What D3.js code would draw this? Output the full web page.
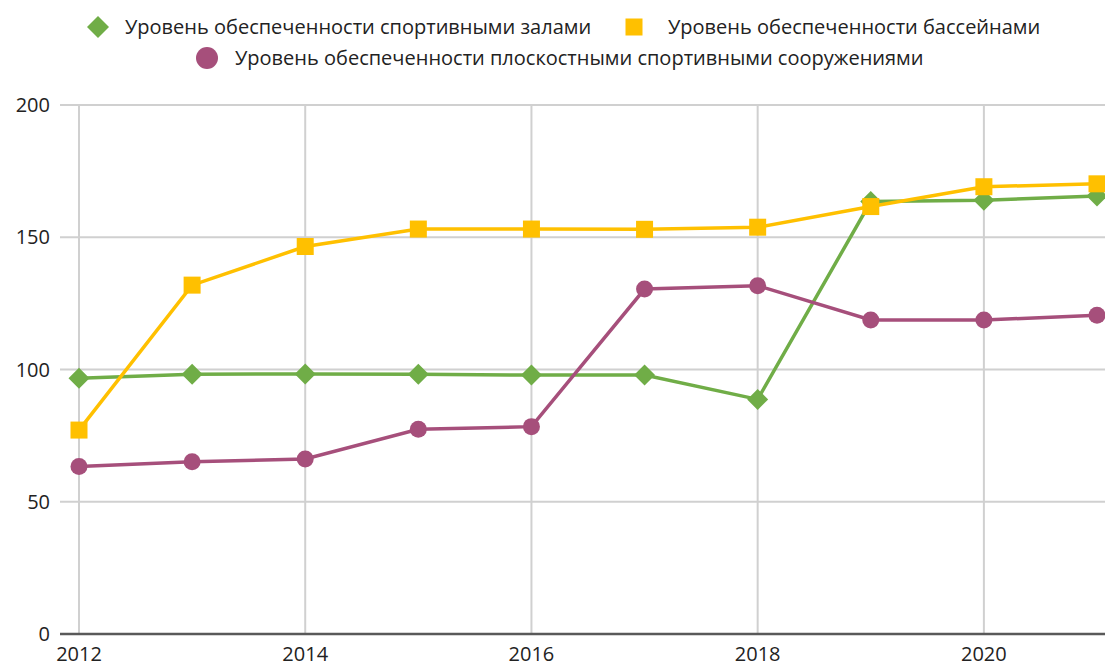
<!DOCTYPE html>
<html>
<head>
<meta charset="utf-8">
<script src="https://cdn.jsdelivr.net/npm/d3@7"></script>
<style>
  body { margin: 0; background: #fff; }
  svg { display: block; font-family: "Open Sans", sans-serif; }
</style>
</head>
<body>
<svg width="1105" height="666"></svg>
<script>
// years on the x axis
const years = [2012, 2013, 2014, 2015, 2016, 2017, 2018, 2019, 2020, 2021];
const xTicks = [2012, 2014, 2016, 2018, 2020];
const yTicks = [0, 50, 100, 150, 200];

// series values
const halls = [96.7, 98.2, 98.3, 98.2, 97.9, 97.9, 88.7, 163.5, 164.0, 165.6];
const pools = [77.1, 131.9, 146.5, 153.1, 153.1, 153.0, 153.8, 161.6, 169.1, 170.2];
const fields = [63.3, 65.1, 66.2, 77.4, 78.4, 130.4, 131.7, 118.7, 118.7, 120.5];

const names = [
  'Уровень обеспеченности спортивными залами',
  'Уровень обеспеченности бассейнами',
  'Уровень обеспеченности плоскостными спортивными сооружениями'
];

const series = [
  { name: names[0], vals: halls, color: '#70AD47', shape: 'diamond' },
  { name: names[1], vals: pools, color: '#FFC000', shape: 'square' },
  { name: names[2], vals: fields, color: '#A64F7B', shape: 'circle' }
];

const svg = d3.select('svg');

const x = d3.scaleLinear().domain([2012, 2021]).range([79, 1097]);
const y = d3.scaleLinear().domain([0, 200]).range([634, 105]);

// horizontal grid
svg.append('g')
  .selectAll('line')
  .data(yTicks.filter(d => d > 0))
  .join('line')
  .attr('x1', 60).attr('x2', 1105)
  .attr('y1', d => y(d)).attr('y2', d => y(d))
  .attr('stroke', '#d0d0d0').attr('stroke-width', 2);

// vertical grid
svg.append('g')
  .selectAll('line')
  .data(xTicks)
  .join('line')
  .attr('x1', d => x(d)).attr('x2', d => x(d))
  .attr('y1', y(200)).attr('y2', y(0))
  .attr('stroke', '#d0d0d0').attr('stroke-width', 2);

// zero line
svg.append('line')
  .attr('x1', 60).attr('x2', 1105)
  .attr('y1', y(0)).attr('y2', y(0))
  .attr('stroke', '#595959').attr('stroke-width', 2.5);

// y labels
svg.append('g')
  .selectAll('text')
  .data(yTicks)
  .join('text')
  .attr('x', 50)
  .attr('y', d => y(d))
  .attr('dy', '0.35em')
  .attr('text-anchor', 'end')
  .attr('font-size', 20)
  .attr('fill', '#222')
  .text(d => d);

// x labels
svg.append('g')
  .selectAll('text')
  .data(xTicks)
  .join('text')
  .attr('x', d => x(d))
  .attr('y', 661)
  .attr('text-anchor', 'middle')
  .attr('font-size', 20)
  .attr('fill', '#222')
  .text(d => d);

function marker(g, shape, color, sz) {
  if (shape === 'diamond') {
    g.append('path')
      .attr('d', `M0,${-sz}L${sz},0L0,${sz}L${-sz},0Z`)
      .attr('fill', color);
  } else if (shape === 'square') {
    g.append('rect')
      .attr('x', -sz).attr('y', -sz)
      .attr('width', sz * 2).attr('height', sz * 2)
      .attr('fill', color);
  } else {
    g.append('circle').attr('r', sz).attr('fill', color);
  }
}

const line = d3.line()
  .x((d, i) => x(years[i]))
  .y(d => y(d));

series.forEach(s => {
  svg.append('path')
    .datum(s.vals)
    .attr('d', line)
    .attr('fill', 'none')
    .attr('stroke', s.color)
    .attr('stroke-width', 3.5);
});

series.forEach(s => {
  const sz = s.shape === 'diamond' ? 10.5 : 8.5;
  s.vals.forEach((v, i) => {
    const g = svg.append('g').attr('transform', `translate(${x(years[i])},${y(v)})`);
    marker(g, s.shape, s.color, sz);
  });
});

// legend
const leg = [
  { s: series[0], mx: 98, my: 27, tx: 125 },
  { s: series[1], mx: 634, my: 27, tx: 668 },
  { s: series[2], mx: 207, my: 58, tx: 235 }
];
leg.forEach(l => {
  const g = svg.append('g').attr('transform', `translate(${l.mx},${l.my})`);
  const sz = l.s.shape === 'diamond' ? 11 : l.s.shape === 'square' ? 8.5 : 11;
  marker(g, l.s.shape, l.s.color, sz);
  svg.append('text')
    .attr('x', l.tx).attr('y', l.my)
    .attr('dy', '0.35em')
    .attr('font-size', 20)
    .attr('fill', '#222')
    .text(l.s.name);
});
</script>
</body>
</html>
